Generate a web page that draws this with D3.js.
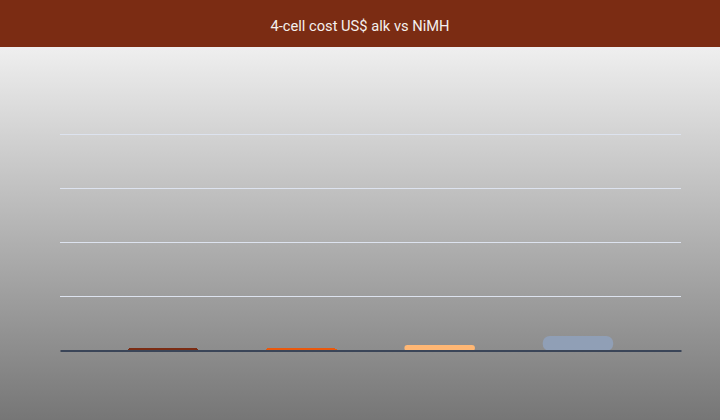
<!DOCTYPE html>
<html>
<head>
<meta charset="utf-8">
<script src="https://cdn.jsdelivr.net/npm/d3@7"></script>
<style>
  html, body { margin: 0; padding: 0; background: #fff; }
  svg { display: block; }
</style>
</head>
<body>
<div id="chart"></div>
<script>
// chart data (no labels shown on axes)
var categories = ["Alkaline", "NiMH low", "NiMH mid", "NiMH high"];
var costs = [0.75, 0.7, 2.3, 6.5];
var barColors = ["#7b2c13", "#ea580c", "#ffb774", "#909fb6"];
var yTicks = [0, 25, 50, 75, 100];
var title = "4-cell cost US$ alk vs NiMH";

var w = 720,
    h = 420;
var headerH = 47;
var margin = { top: 134, right: 39, bottom: 70, left: 60 };
var width = w - margin.left - margin.right,
    height = h - margin.top - margin.bottom;

var svg = d3.select("#chart").append("svg")
    .attr("width", w)
    .attr("height", h);

// background gradient
var grad = svg.append("defs").append("linearGradient")
    .attr("id", "bg")
    .attr("x1", 0).attr("y1", 0).attr("x2", 0).attr("y2", 1);
grad.append("stop").attr("offset", "0%").attr("stop-color", "#efefef");
grad.append("stop").attr("offset", "100%").attr("stop-color", "#767676");

svg.append("rect")
    .attr("x", 0).attr("y", headerH)
    .attr("width", w).attr("height", h - headerH)
    .attr("fill", "url(#bg)");

// title bar
svg.append("rect")
    .attr("x", 0).attr("y", 0)
    .attr("width", w).attr("height", headerH)
    .attr("fill", "#7b2c13");

svg.append("text")
    .attr("x", w / 2)
    .attr("y", 30.5)
    .attr("text-anchor", "middle")
    .attr("font-family", "Roboto, sans-serif")
    .attr("font-size", "14.7px")
    .attr("fill", "#f4f0ee")
    .text(title);

var g = svg.append("g")
    .attr("transform", "translate(" + margin.left + "," + margin.top + ")");

var x = d3.scaleBand()
    .range([0, width])
    .domain(categories)
    .padding(0.49);

var y = d3.scaleLinear()
    .range([height, 0])
    .domain([yTicks[0], yTicks[yTicks.length - 1]]);

// gridlines
var grid = g.append("g")
    .call(d3.axisLeft(y).tickValues(yTicks.slice(1)).tickSize(-width).tickFormat(""));
grid.select(".domain").remove();
grid.selectAll(".tick line")
    .attr("stroke", "#dde3ef")
    .attr("stroke-width", 1);

// bars (bottom tucked under the baseline)
g.selectAll("rect.bar")
    .data(costs)
    .enter().append("rect")
    .attr("class", "bar")
    .attr("x", (d, i) => x(categories[i]))
    .attr("y", (d) => y(d))
    .attr("width", x.bandwidth())
    .attr("height", (d) => y(0) - y(d) + 1)
    .attr("rx", (d) => Math.min(7, (y(0) - y(d) + 1) / 2))
    .attr("shape-rendering", (d) => (y(0) - y(d)) < 4 ? "crispEdges" : null)
    .attr("fill", (d, i) => barColors[i]);

// baseline
var xAxis = g.append("g")
    .attr("transform", "translate(0," + (y(0) + 0.5) + ")")
    .call(d3.axisBottom(x).tickSize(0).tickFormat(""));
xAxis.select(".domain")
    .attr("stroke", "#3a4558")
    .attr("stroke-width", 2);
</script>
</body>
</html>
